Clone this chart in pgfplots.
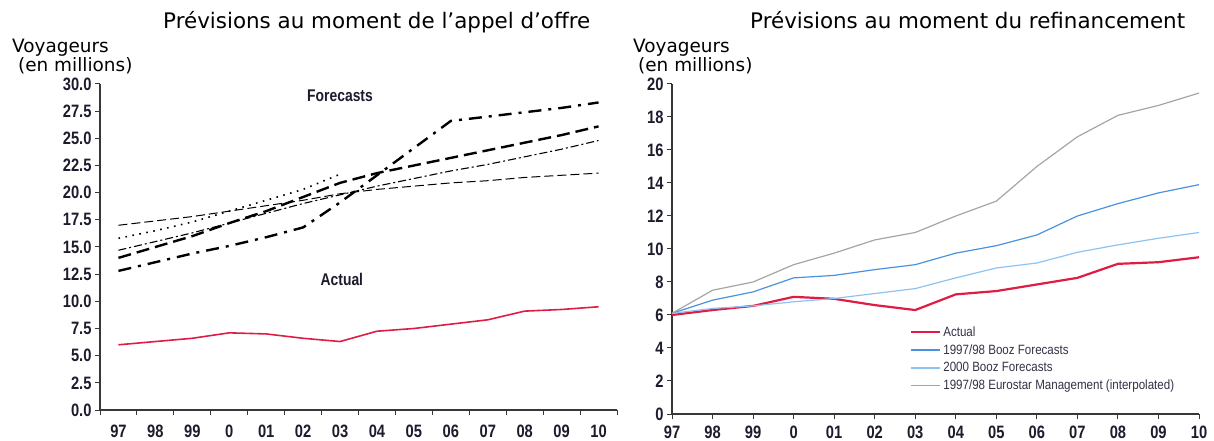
\documentclass[border=0pt]{standalone}
\usepackage{fontspec}
\setmainfont{DejaVu Sans}
\newfontfamily\tickfont{Liberation Sans}[FakeStretch=0.82]
\newfontfamily\legfont{Liberation Sans}[FakeStretch=0.86]
\usepackage{pgfplots}
\pgfplotsset{compat=1.18}
\usepackage{pgfplotstable}

\definecolor{actualred}{RGB}{222,28,68}
\definecolor{boozblue}{RGB}{74,146,222}
\definecolor{boozlight}{RGB}{140,195,240}
\definecolor{eurogray}{RGB}{165,165,165}
\definecolor{axisgray}{RGB}{55,55,55}
\definecolor{labelink}{RGB}{28,28,45}
\definecolor{legendink}{RGB}{50,50,70}

\pgfplotstableread{
x actual A B C D E
0 6.0 17.0 15.8 14.7 14.0 12.8
1 6.3 17.4 16.5 15.5 15.0 13.6
2 6.6 17.8 17.3 16.3 16.0 14.4
3 7.1 18.3 18.3 17.2 17.2 15.1
4 7.0 18.8 19.3 18.1 18.3 15.9
5 6.6 19.3 20.3 19.0 19.6 16.8
6 6.3 19.9 21.7 19.8 20.9 19.1
7 7.25 20.3 nan 20.6 21.8 21.6
8 7.5 20.6 nan 21.3 22.5 24.1
9 7.9 20.9 nan 22.0 23.2 26.6
10 8.3 21.1 nan 22.6 23.9 27.0
11 9.1 21.4 nan 23.3 24.6 27.4
12 9.25 21.6 nan 24.0 25.3 27.8
13 9.5 21.8 nan 24.8 26.1 28.3
}\lefttab

\pgfplotstableread{
x actual booz97 booz00 euro
0 6.0 6.1 6.1 6.1
1 6.3 6.9 6.4 7.5
2 6.55 7.4 6.55 8.0
3 7.1 8.25 6.8 9.05
4 6.98 8.4 7.0 9.75
5 6.6 8.75 7.3 10.55
6 6.3 9.05 7.6 11.0
7 7.25 9.75 8.25 12.0
8 7.45 10.2 8.85 12.9
9 7.85 10.85 9.15 15.0
10 8.25 12.0 9.8 16.8
11 9.1 12.75 10.25 18.1
12 9.2 13.4 10.65 18.7
13 9.5 13.9 11.0 19.45
}\righttab

\pgfplotsset{
  chartaxis/.style={
    scale only axis,
    axis lines*=left,
    axis line style={axisgray, line width=1.2bp},
    every tick/.style={axisgray, line width=1bp},
    tick align=outside,
    major tick length=5bp,
    tick label style={font=\tickfont\bfseries\fontsize{18}{18}\selectfont, text=labelink},
    /pgf/number format/assume math mode=true,
    clip=false,
  }
}

\begin{document}
\begin{tikzpicture}
% ---------- left chart ----------
\begin{axis}[chartaxis,
  at={(100bp,31bp)}, anchor=south west,
  width=517bp, height=326bp,
  xmin=-0.5, xmax=13.5, ymin=0, ymax=30,
  xtick={-0.5,0.5,...,13.5},
  xticklabels={,,,,,,,,,,,,,,,},
  extra x ticks={0,1,...,13},
  extra x tick labels={97,98,99,0,01,02,03,04,05,06,07,08,09,10},
  extra x tick style={major tick length=0pt,
    xticklabel style={inner sep=1bp, yshift=-14bp}},
  ytick={0,2.5,...,30},
  yticklabel style={/pgf/number format/.cd, fixed, fixed zerofill, precision=1},
]
\addplot[black, line width=1bp, dash pattern=on 9bp off 4bp] table[x=x, y=A] {\lefttab};
\addplot[black, line width=1.6bp, dash pattern=on 1.6bp off 5.5bp] table[x=x, y=B] {\lefttab};
\addplot[black, line width=1.1bp, dash pattern=on 8bp off 3bp on 2bp off 3bp] table[x=x, y=C] {\lefttab};
\addplot[black, line width=2.4bp, dash pattern=on 13bp off 6bp] table[x=x, y=D] {\lefttab};
\addplot[black, line width=2.4bp, dash pattern=on 13bp off 7bp on 3bp off 7bp] table[x=x, y=E] {\lefttab};
\addplot[actualred, line width=1.6bp] table[x=x, y=actual] {\lefttab};
\node[font=\tickfont\bfseries\fontsize{17}{17}\selectfont, text=labelink] at (axis cs:6,28.9) {Forecasts};
\node[font=\tickfont\bfseries\fontsize{17}{17}\selectfont, text=labelink] at (axis cs:6.05,12.0) {Actual};
\end{axis}

% ---------- right chart ----------
\begin{axis}[chartaxis,
  at={(672bp,27bp)}, anchor=south west,
  width=527bp, height=330bp,
  xmin=0, xmax=13, ymin=0, ymax=20,
  xtick={0,1,...,13},
  xticklabels={97,98,99,0,01,02,03,04,05,06,07,08,09,10},
  xticklabel style={inner sep=1bp, yshift=-6bp},
  ytick={0,2,...,20},
  legend style={draw=none, fill=none, inner sep=0pt,
    at={(axis description cs:0.4515,0.272)}, anchor=north west,
    font=\legfont\fontsize{13.5}{13.5}\selectfont, text=legendink,
    row sep=2.8bp},
  legend image code/.code={\draw[#1] (0bp,0bp) -- (29bp,0bp);},
  legend cell align=left,
]
\addplot[color=actualred, line width=2.2bp] table[x=x, y=actual] {\righttab};
\addlegendentry{Actual}
\addplot[color=boozblue, line width=1.2bp] table[x=x, y=booz97] {\righttab};
\addlegendentry{1997/98 Booz Forecasts}
\addplot[color=boozlight, line width=1.2bp] table[x=x, y=booz00] {\righttab};
\addlegendentry{2000 Booz Forecasts}
\addplot[color=eurogray, line width=1.2bp] table[x=x, y=euro] {\righttab};
\addlegendentry{1997/98 Eurostar Management (interpolated)}
\end{axis}

% ---------- texts ----------
\node[anchor=base west, inner sep=0pt, font=\fontsize{21.5}{21.5}\selectfont] at (163bp,412bp) {Prévisions au moment de l’appel d’offre};
\node[anchor=base west, inner sep=0pt, font=\fontsize{21.5}{21.5}\selectfont] at (750bp,412bp) {Prévisions au moment du refinancement};
\node[anchor=base west, inner sep=0pt, font=\fontsize{18.5}{18.5}\selectfont] at (12bp,388bp) {Voyageurs};
\node[anchor=base west, inner sep=0pt, font=\fontsize{18.5}{18.5}\selectfont] at (18bp,369bp) {(en millions)};
\node[anchor=base west, inner sep=0pt, font=\fontsize{18.5}{18.5}\selectfont] at (633bp,388bp) {Voyageurs};
\node[anchor=base west, inner sep=0pt, font=\fontsize{18.5}{18.5}\selectfont] at (638bp,369bp) {(en millions)};

\pgfresetboundingbox
\useasboundingbox (0bp,0bp) rectangle (1214bp,441bp);
\end{tikzpicture}
\end{document}
